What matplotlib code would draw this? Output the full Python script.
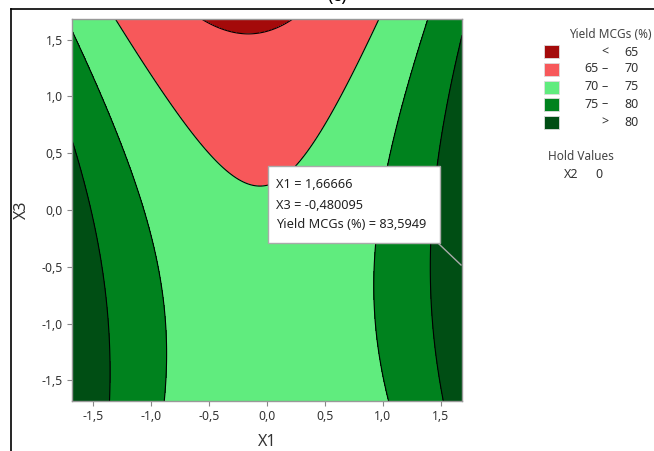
import numpy as np
import matplotlib
matplotlib.use('Agg')
import matplotlib.pyplot as plt
from matplotlib.ticker import FuncFormatter
from matplotlib.patches import Rectangle
from matplotlib.lines import Line2D

plt.rcParams['font.family'] = ['Noto Sans', 'DejaVu Sans']
plt.rcParams['axes.unicode_minus'] = False

# Surface ajustee (modele quadratique)
# Y = b0 + b1*X1 + b3*X3 + b11*X1^2 + b33*X3^2 + b13*X1*X3
b0 = 70.465
b_lin = [0.396, -1.923]      # X1, X3
b_quad = [4.4, -0.985]       # X1^2, X3^2
b_inter = 0.66               # X1*X3

alpha = 1.68179
levels = [65, 70, 75, 80]
legend_labels = [('', '<', '65'), ('65', '–', '70'), ('70', '–', '75'),
                 ('75', '–', '80'), ('', '>', '80')]
colors = ['#A40A0A', '#F7585A', '#60EC7E', '#00821E', '#004E14']
xticks = [-1.5, -1.0, -0.5, 0.0, 0.5, 1.0, 1.5]
yticks = [-1.5, -1.0, -0.5, 0.0, 0.5, 1.0, 1.5]

hold_name, hold_value = 'X2', '0'
tip_x1, tip_x3, tip_y = '1,66666', '-0,480095', '83,5949'

W, H = 654, 451
fig = plt.figure(figsize=(W / 100, H / 100), dpi=100)

def fx(px):
    return px / W

def fy(py):
    return 1 - py / H

ax = fig.add_axes([fx(72), fy(401), fx(462) - fx(72), fy(19) - fy(401)])

x1 = np.linspace(-alpha, alpha, 300)
x3 = np.linspace(-alpha, alpha, 300)
X1, X3 = np.meshgrid(x1, x3)
Y = (b0 + b_lin[0] * X1 + b_lin[1] * X3 + b_quad[0] * X1**2
     + b_quad[1] * X3**2 + b_inter * X1 * X3)

bounds = [min(Y.min(), levels[0]) - 1] + levels + [max(Y.max(), levels[-1]) + 1]
ax.contourf(X1, X3, Y, levels=bounds, colors=colors)
ax.contour(X1, X3, Y, levels=levels, colors='black', linewidths=0.8)

ax.set_xlim(-alpha, alpha)
ax.set_ylim(-alpha, alpha)
ax.set_xticks(xticks)
ax.set_yticks(yticks)
fmt = FuncFormatter(lambda v, p: f'{v:.1f}'.replace('.', ','))
ax.xaxis.set_major_formatter(fmt)
ax.yaxis.set_major_formatter(fmt)
ax.tick_params(length=3.5, width=0.8, color='#888888', labelsize=8.8,
               labelcolor='#333333', pad=3)
for s in ax.spines.values():
    s.set_color('#999999')
    s.set_linewidth(1)

fig.text(fx(267), fy(442), 'X1', ha='center', va='center', fontsize=11.5, color='#333333')
fig.text(fx(22), fy(210), 'X3', ha='center', va='center', fontsize=11.5,
         color='#333333', rotation=90)

# cadre exterieur (coupe) et titre coupe
fig.add_artist(Line2D([fx(11), fx(11)], [fy(9), 0], color='black', lw=1.2))
fig.add_artist(Line2D([fx(11), 1], [fy(9), fy(9)], color='black', lw=1.2))
fig.text(fx(337), fy(0.5), '(c)', ha='center', va='baseline', fontsize=13, color='black')

# legende
fig.text(fx(569), fy(34), 'Yield MCGs (%)', ha='left', va='center', fontsize=8.5,
         color='#444444', fontweight='semibold')
rows = [52, 69, 87, 104, 122]
for r, c, (lo, sep, hi) in zip(rows, colors, legend_labels):
    fig.add_artist(Rectangle((fx(544), fy(r + 6.5)), fx(15), 13 / H, facecolor=c,
                             edgecolor='#DDDDDD', lw=0.6, transform=fig.transFigure))
    if lo:
        fig.text(fx(599), fy(r), lo, ha='right', va='center', fontsize=9, color='#333333')
    fig.text(fx(605), fy(r), sep, ha='center', va='center', fontsize=9, color='#333333')
    fig.text(fx(639), fy(r), hi, ha='right', va='center', fontsize=9, color='#333333')

fig.text(fx(548), fy(157), 'Hold Values', ha='left', va='center', fontsize=8.5,
         color='#444444', fontweight='semibold')
fig.text(fx(564), fy(175), hold_name, ha='left', va='center', fontsize=9, color='#333333')
fig.text(fx(595), fy(175), hold_value, ha='left', va='center', fontsize=9, color='#333333')

# info-bulle
fig.add_artist(Line2D([fx(439), fx(461)], [fy(244), fy(265)], color='#AAAAAA', lw=1))
fig.add_artist(Rectangle((fx(268), fy(243)), fx(440) - fx(268), fy(166) - fy(243),
                         facecolor='white', edgecolor='#AAAAAA', lw=1,
                         transform=fig.transFigure))
tip_lines = [f'X1 = {tip_x1}', f'X3 = {tip_x3}', f'Yield MCGs (%) = {tip_y}']
for yy, t in zip([185, 205, 224], tip_lines):
    fig.text(fx(276), fy(yy), t, ha='left', va='center', fontsize=9.2, color='#222222')

fig.savefig('out.png', dpi=100)
